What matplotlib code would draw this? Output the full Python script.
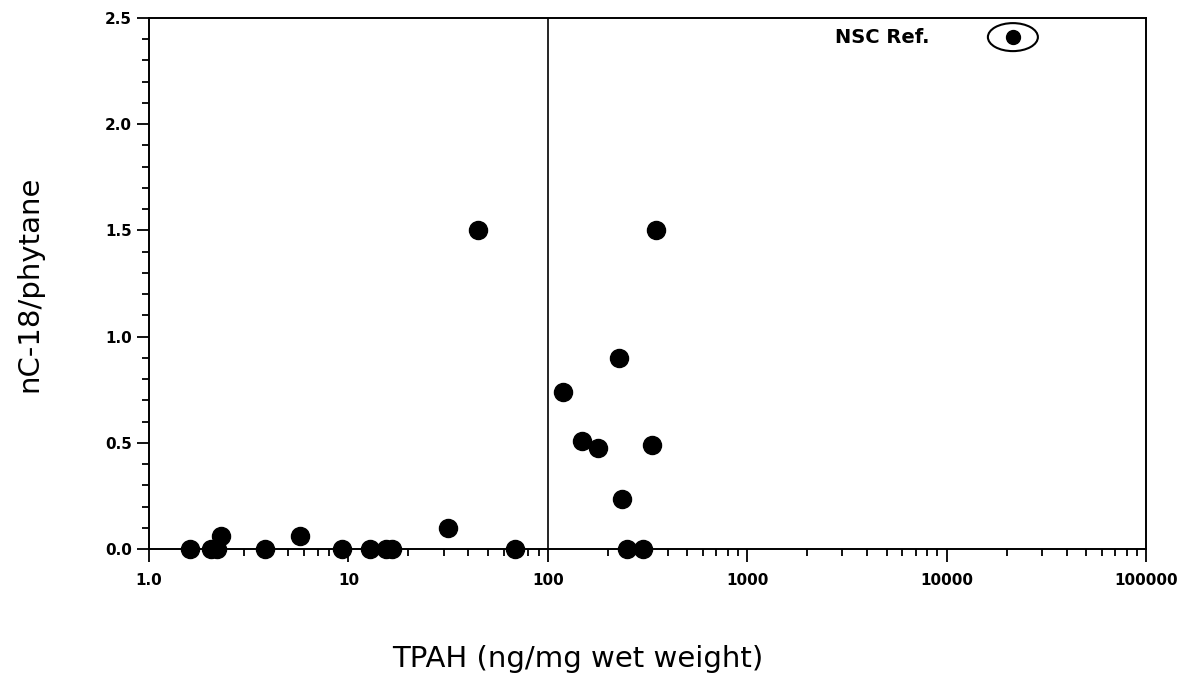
import matplotlib
matplotlib.use("Agg")
import matplotlib.pyplot as plt
import numpy as np
from matplotlib.patches import Ellipse
from matplotlib.transforms import IdentityTransform
from matplotlib.ticker import FixedLocator, MultipleLocator, NullFormatter, LogLocator

# Data
tpah = [1.6, 2.05, 2.2, 2.3, 3.8, 5.7, 9.3, 12.9, 15.5, 16.5, 31.7, 44.7, 68.5,
        119, 148, 179, 228, 235, 250, 299, 332, 349]
ratio = [0.0, 0.0, 0.0, 0.06, 0.0, 0.06, 0.0, 0.0, 0.0, 0.0, 0.1, 1.5, 0.0,
         0.74, 0.51, 0.475, 0.9, 0.235, 0.0, 0.0, 0.49, 1.5]
ref_x = [21500]
ref_y = [2.41]
ref_label = "NSC Ref."
x_ticks = [1, 10, 100, 1000, 10000, 100000]
x_ticklabels = ["1.0", "10", "100", "1000", "10000", "100000"]
y_ticks = [0.0, 0.5, 1.0, 1.5, 2.0, 2.5]
y_ticklabels = ["0.0", "0.5", "1.0", "1.5", "2.0", "2.5"]
threshold_x = 100

fig = plt.figure(figsize=(11.97, 6.73), dpi=100)
ax = fig.add_axes([149/1197, 1-549/673, (1146-149)/1197, (549-18)/673])

ax.set_xscale("log")
ax.set_xlim(1, 100000)
ax.set_ylim(0, 2.5)

ax.axvline(threshold_x, color="black", lw=1.2, zorder=1)
ax.plot(tpah, ratio, "o", color="black", ms=13, clip_on=False, zorder=3)
ax.plot(ref_x, ref_y, "o", color="black", ms=10, zorder=3)

# Ellipse around the reference point, drawn in pixel units at the data point
cx, cy = ax.transData.transform((ref_x[0], ref_y[0]))
ell = Ellipse((cx, cy), width=50, height=28, fill=False, lw=1.5, ec="black",
              transform=IdentityTransform(), zorder=4)
ax.add_artist(ell)

ax.annotate(ref_label, xy=(ref_x[0], ref_y[0]), xytext=(-83, 0),
            textcoords="offset pixels", ha="right", va="center",
            fontsize=14, fontweight="bold")

ax.xaxis.set_major_locator(FixedLocator(x_ticks))
ax.set_xticklabels(x_ticklabels, fontsize=11, fontweight="bold")
ax.xaxis.set_minor_locator(LogLocator(base=10, subs=np.arange(2, 10)))
ax.xaxis.set_minor_formatter(NullFormatter())
ax.set_yticks(y_ticks)
ax.set_yticklabels(y_ticklabels, fontsize=11, fontweight="bold")
ax.yaxis.set_minor_locator(MultipleLocator(0.1))

ax.tick_params(which="major", direction="out", length=9, width=1.3)
ax.tick_params(which="minor", direction="out", length=5, width=1.3)
ax.tick_params(axis="x", which="major", pad=8)
ax.tick_params(top=False, right=False)
for s in ax.spines.values():
    s.set_linewidth(1.4)

ax.set_xlabel("TPAH (ng/mg wet weight)", fontsize=21, va="center")
ax.xaxis.set_label_coords(0.43, -0.207)
ax.set_ylabel("nC-18/phytane", fontsize=21, labelpad=44)

fig.savefig("out.png", dpi=100)
